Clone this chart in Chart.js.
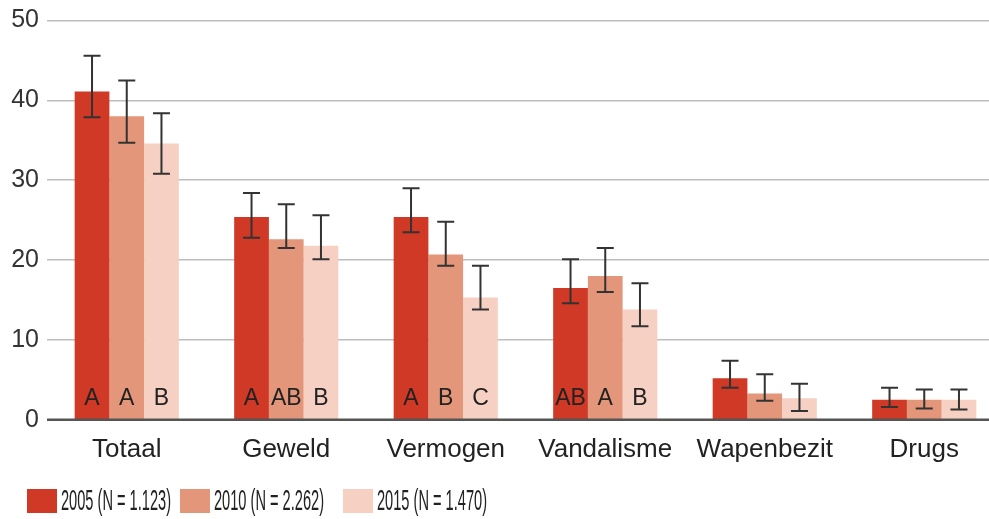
<!DOCTYPE html>
<html>
<head>
<meta charset="utf-8">
<script src="https://cdn.jsdelivr.net/npm/chart.js@4"></script>
<style>
  html, body { margin: 0; padding: 0; background: #fff; overflow: hidden; }
  #wrap { width: 1004px; height: 519px; position: relative; }
</style>
</head>
<body>
<div id="wrap"><canvas id="crime-chart"></canvas></div>
<script>
// categories and series
const categories = ['Totaal', 'Geweld', 'Vermogen', 'Vandalisme', 'Wapenbezit', 'Drugs'];
const seriesNames = ['2005 (N = 1.123)', '2010 (N = 2.262)', '2015 (N = 1.470)'];
const yTicks = [0, 10, 20, 30, 40, 50];

const values2005 = [41.1, 25.4, 25.4, 16.5, 5.2, 2.5];
const values2010 = [38.0, 22.6, 20.7, 18.0, 3.3, 2.5];
const values2015 = [34.6, 21.8, 15.3, 13.8, 2.7, 2.5];

// error bar bounds (low / high)
const low2005 = [37.9, 22.8, 23.5, 14.6, 4.0, 1.6];
const high2005 = [45.6, 28.4, 29.0, 20.1, 7.4, 4.0];
const low2010 = [34.7, 21.5, 19.3, 16.0, 2.4, 1.4];
const high2010 = [42.5, 27.0, 24.8, 21.5, 5.7, 3.8];
const low2015 = [30.8, 20.1, 13.8, 11.7, 1.1, 1.3];
const high2015 = [38.4, 25.6, 19.3, 17.1, 4.5, 3.8];

// significance letters shown at the foot of each bar
const letters2005 = ['A', 'A', 'A', 'AB', '', ''];
const letters2010 = ['A', 'AB', 'B', 'A', '', ''];
const letters2015 = ['B', 'B', 'C', 'B', '', ''];

const colors = ['rgb(207, 57, 38)', 'rgb(227, 150, 121)', 'rgb(246, 208, 194)'];

const lows = [low2005, low2010, low2015];
const highs = [high2005, high2010, high2015];
const letters = [letters2005, letters2010, letters2015];

const FONT = '"Liberation Sans", Arial, sans-serif';

const errorBars = {
  id: 'errorBars',
  afterDatasetsDraw(chart) {
    const ctx = chart.ctx;
    const y = chart.scales.y;
    const area = chart.chartArea;
    const zero = y.getPixelForValue(0);

    ctx.save();
    // zero line drawn over the bars
    ctx.strokeStyle = '#555';
    ctx.lineWidth = 2.5;
    ctx.beginPath();
    ctx.moveTo(area.left, zero);
    ctx.lineTo(area.right, zero);
    ctx.stroke();

    chart.data.datasets.forEach((ds, i) => {
      const meta = chart.getDatasetMeta(i);
      meta.data.forEach((bar, j) => {
        const x = bar.x;
        const yLo = y.getPixelForValue(lows[i][j]);
        const yHi = y.getPixelForValue(highs[i][j]);
        ctx.strokeStyle = '#333';
        ctx.lineWidth = 2;
        ctx.beginPath();
        ctx.moveTo(x, yLo); ctx.lineTo(x, yHi);
        ctx.moveTo(x - 8.5, yLo); ctx.lineTo(x + 8.5, yLo);
        ctx.moveTo(x - 8.5, yHi); ctx.lineTo(x + 8.5, yHi);
        ctx.stroke();

        const txt = letters[i][j];
        if (txt) {
          ctx.fillStyle = '#222';
          ctx.font = '23px ' + FONT;
          ctx.textAlign = 'center';
          ctx.textBaseline = 'middle';
          ctx.fillText(txt, x, zero - 21);
        }
      });
    });
    ctx.restore();
  }
};

// legend drawn by hand so the text can be condensed like the original
const condensedLegend = {
  id: 'condensedLegend',
  afterDraw(chart) {
    const ctx = chart.ctx;
    const starts = [27, 180, 343];
    const textWidth = 110;
    ctx.save();
    ctx.font = '29px ' + FONT;
    ctx.textBaseline = 'middle';
    chart.data.datasets.forEach((ds, i) => {
      const bx = starts[i];
      ctx.fillStyle = ds.backgroundColor;
      ctx.fillRect(bx, 489, 30, 24);
      const w = ctx.measureText(ds.label).width;
      ctx.save();
      ctx.translate(bx + 34, 502);
      ctx.scale(textWidth / w, 1);
      ctx.fillStyle = '#222';
      ctx.fillText(ds.label, 0, 0);
      ctx.restore();
    });
    ctx.restore();
  }
};

const ctx = document.getElementById('crime-chart').getContext('2d');
new Chart(ctx, {
  type: 'bar',
  data: {
    labels: categories,
    datasets: [
      { label: seriesNames[0], data: values2005, backgroundColor: colors[0] },
      { label: seriesNames[1], data: values2010, backgroundColor: colors[1] },
      { label: seriesNames[2], data: values2015, backgroundColor: colors[2] }
    ]
  },
  options: {
    responsive: true,
    maintainAspectRatio: false,
    animation: false,
    layout: { padding: { top: 0, left: 5, right: 0, bottom: 48 } },
    plugins: {
      title: { display: false },
      tooltip: { enabled: false },
      legend: { display: false }
    },
    datasets: {
      bar: { categoryPercentage: 0.653, barPercentage: 1.0 }
    },
    scales: {
      x: {
        grid: { display: false },
        border: { display: false },
        ticks: {
          color: '#222',
          padding: 6,
          font: { family: FONT, size: 26 }
        }
      },
      y: {
        min: 0,
        max: 50,
        afterBuildTicks(axis) { axis.ticks = yTicks.map(v => ({ value: v })); },
        afterFit(axis) { axis.width = 42; },
        grid: { color: '#bdbdbd', lineWidth: 1.5, drawTicks: false },
        border: { display: false },
        ticks: {
          color: '#333',
          padding: 8,
          font: { family: FONT, size: 25, lineHeight: 1.0 }
        }
      }
    }
  },
  plugins: [errorBars, condensedLegend]
});
</script>
</body>
</html>
